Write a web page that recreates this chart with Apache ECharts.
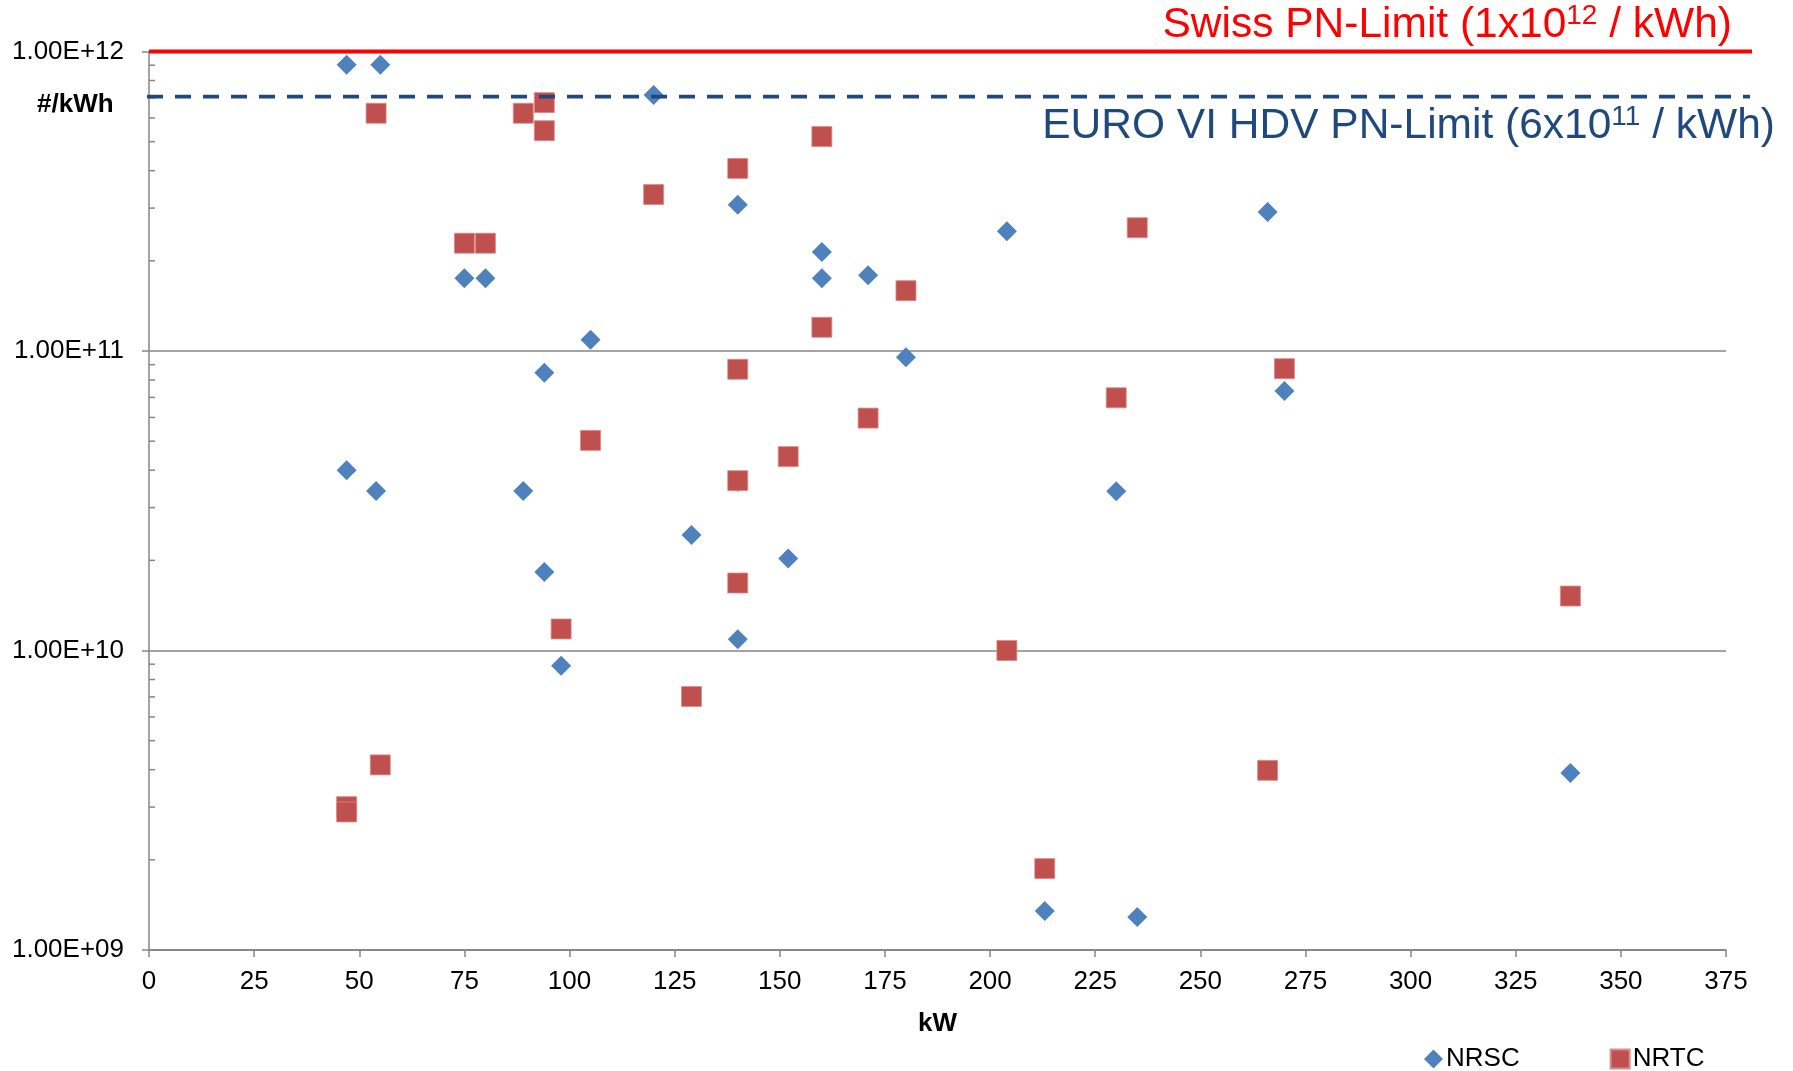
<!DOCTYPE html>
<html>
<head>
<meta charset="utf-8">
<title>PN pro kWh</title>
<script src="https://cdn.jsdelivr.net/npm/echarts@6/dist/echarts.min.js"></script>
<style>
html, body { margin: 0; padding: 0; background: #fff; }
#chart { width: 1793px; height: 1071px; }
</style>
</head>
<body>
<div id="chart"></div>
<script>
// kW, #/kWh
const nrsc = [
  [47, 9.04e11], [55, 9.04e11], [120, 7.16e11], [140, 4.05e11], [140, 3.08e11],
  [160, 2.14e11], [160, 1.75e11], [171, 1.79e11], [75, 1.75e11], [80, 1.75e11],
  [204, 2.51e11], [266, 2.91e11], [105, 1.09e11], [180, 9.53e10], [94, 8.46e10],
  [270, 7.35e10], [47, 4.0e10], [54, 3.41e10], [89, 3.41e10], [140, 3.65e10],
  [94, 1.83e10], [129, 2.43e10], [152, 2.03e10], [140, 1.09e10], [98, 8.9e9],
  [230, 3.40e10], [338, 3.90e9], [213, 1.35e9], [235, 1.29e9]
]
const nrtc = [
  [47, 3.01e9], [47, 2.89e9], [54, 6.22e11], [55, 4.15e9], [75, 2.29e11],
  [80, 2.29e11], [89, 6.22e11], [94, 6.75e11], [94, 5.44e11], [98, 1.18e10],
  [105, 5.03e10], [120, 3.33e11], [129, 7.02e9], [140, 4.07e11], [140, 8.69e10],
  [140, 3.69e10], [140, 1.68e10], [152, 4.44e10], [160, 5.20e11], [160, 1.20e11],
  [171, 5.97e10], [180, 1.59e11], [204, 1.00e10], [213, 1.87e9], [230, 6.98e10],
  [235, 2.58e11], [266, 3.98e9], [270, 8.73e10], [338, 1.52e10]
]
const yTickLabels = { 9: '1.00E+09', 10: '1.00E+10', 11: '1.00E+11', 12: '1.00E+12' }
const minorSteps = [2, 3, 4, 5, 6, 7, 8, 9]
const decades = [1e9, 1e10, 1e11]
const swissLimit = 1e12
const euroLine = 7.07e11 // drawn position of the EURO VI line in the original

const font = "'Liberation Sans', Arial, sans-serif"
const axisGrey = '#868686'

const minorTicks = []
decades.forEach(d => minorSteps.forEach(s => minorTicks.push([0, s * d])))

const chart = echarts.init(document.getElementById('chart'))

chart.setOption({
  animation: false,
  backgroundColor: '#fff',
  grid: { left: 149, right: 67, top: 51.5, bottom: 121 },
  legend: {
    data: ['NRSC', 'NRTC'],
    left: 1419,
    top: 1041,
    itemWidth: 19,
    itemHeight: 19,
    itemGap: 90,
    textStyle: { fontSize: 26, fontFamily: font, color: '#000', padding: [0, 0, 0, -2] }
  },
  xAxis: {
    type: 'value',
    min: 0,
    max: 375,
    interval: 25,
    name: 'kW',
    nameLocation: 'middle',
    nameGap: 61,
    nameTextStyle: { fontSize: 26, fontWeight: 'bold', fontFamily: font, color: '#000' },
    axisLine: { lineStyle: { color: axisGrey, width: 1.5 } },
    axisTick: { show: true, length: 7, lineStyle: { color: axisGrey, width: 1.5 } },
    axisLabel: { fontSize: 26, fontFamily: font, color: '#000', margin: 19 },
    splitLine: { show: false }
  },
  yAxis: {
    type: 'log',
    logBase: 10,
    min: 1e9,
    max: 1e12,
    axisLine: { show: true, lineStyle: { color: axisGrey, width: 1.5 } },
    axisTick: { show: true, length: 7, lineStyle: { color: axisGrey, width: 1.5 } },
    axisLabel: {
      fontSize: 26,
      fontFamily: font,
      color: '#000',
      margin: 25,
      formatter: v => yTickLabels[Math.round(Math.log10(v))] || ''
    },
    splitLine: { show: true, lineStyle: { color: axisGrey, width: 1.5 } }
  },
  series: [
    {
      name: 'minor',
      type: 'custom',
      silent: true,
      clip: false,
      data: minorTicks,
      renderItem: (params, api) => {
        const p = api.coord([api.value(0), api.value(1)])
        return {
          type: 'line',
          shape: { x1: p[0], y1: p[1], x2: p[0] + 6, y2: p[1] },
          style: { stroke: axisGrey, lineWidth: 1.5 }
        }
      }
    },
    {
      name: 'NRSC',
      type: 'scatter',
      symbol: 'diamond',
      symbolSize: [20, 20],
      itemStyle: { color: '#4F81BD', opacity: 1 },
      data: nrsc
    },
    {
      name: 'NRTC',
      type: 'scatter',
      symbol: 'rect',
      symbolSize: [20, 20],
      itemStyle: { color: '#C0504D', opacity: 1, borderColor: '#D98C8A', borderWidth: 0.8 },
      data: nrtc
    }
  ]
})

// limit lines run a little past the plot area, as in the original
const s0 = chart.convertToPixel({ gridIndex: 0 }, [0, swissLimit])
const s1 = chart.convertToPixel({ gridIndex: 0 }, [375, swissLimit])
const e0 = chart.convertToPixel({ gridIndex: 0 }, [0, euroLine])
const e1 = chart.convertToPixel({ gridIndex: 0 }, [375, euroLine])

chart.setOption({
  graphic: [
    {
      type: 'line',
      z: 100,
      silent: true,
      shape: { x1: s0[0], y1: s0[1], x2: s1[0] + 26, y2: s1[1] },
      style: { stroke: '#FF0000', lineWidth: 4 }
    },
    {
      type: 'line',
      z: 100,
      silent: true,
      shape: { x1: e0[0] - 2, y1: e0[1], x2: e1[0] + 24, y2: e1[1] },
      style: { stroke: '#1F497D', lineWidth: 3.8, lineDash: [16, 12] }
    },
    {
      type: 'text',
      z: 100,
      x: 1732,
      y: 25,
      style: {
        text: '{m|Swiss PN-Limit (1x10}{s|12}{m| / kWh)}',
        align: 'right',
        verticalAlign: 'middle',
        rich: {
          m: { fontSize: 42.5, fontFamily: font, fill: '#FF0000', lineHeight: 46 },
          s: { fontSize: 28, fontFamily: font, fill: '#FF0000', lineHeight: 28, verticalAlign: 'top' }
        }
      }
    },
    {
      type: 'text',
      z: 100,
      x: 1775,
      y: 126.5,
      style: {
        text: '{m|EURO VI HDV PN-Limit (6x10}{s|11}{m| / kWh)}',
        align: 'right',
        verticalAlign: 'middle',
        rich: {
          m: { fontSize: 42.5, fontFamily: font, fill: '#1F497D', lineHeight: 46 },
          s: { fontSize: 28, fontFamily: font, fill: '#1F497D', lineHeight: 28, verticalAlign: 'top' }
        }
      }
    },
    {
      type: 'text',
      z: 100,
      x: 37,
      y: 105,
      style: {
        text: '#/kWh',
        fontSize: 26,
        fontWeight: 'bold',
        fontFamily: font,
        fill: '#000',
        align: 'left',
        verticalAlign: 'middle'
      }
    }
  ]
})
</script>
</body>
</html>
